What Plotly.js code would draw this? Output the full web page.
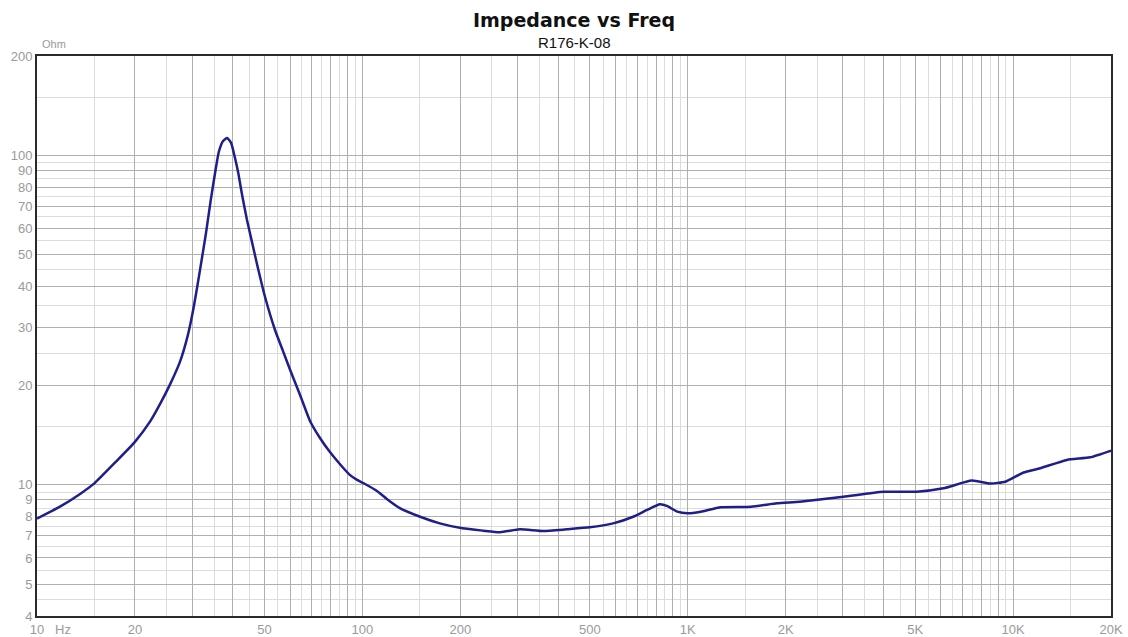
<!DOCTYPE html>
<html>
<head>
<meta charset="utf-8">
<script src="https://cdn.plot.ly/plotly-3.0.1.min.js"></script>
<style>html,body{margin:0;padding:0;background:#fff;}#chart{width:1128px;height:637px;}</style>
</head>
<body>
<div id="chart"></div>
<script>
// Frequency (Hz) and impedance (Ohm)
const freqHz = [10, 11.8, 13.6, 15, 17.4, 20, 22.3, 23.9, 25.6, 27.5, 29.1, 30.4, 31.7, 33.0, 34.2, 35.3, 36.2, 37.3, 38.4, 39.5, 40.4, 41.5, 42.7, 44.2, 45.8, 47.5, 50.2, 53.9, 57, 60, 64.4, 69.1, 74, 79.4, 85.4, 91.7, 96.3, 101.9, 110.9, 120, 130.4, 150.5, 173, 203, 235, 265, 305, 360, 425, 500, 590, 680, 750, 822, 863, 929, 1000, 1097, 1263, 1566, 1880, 2210, 3010, 3996, 5060, 6110, 7470, 8500, 9460, 10770, 12110, 14640, 17260, 20000];
const impedanceOhm = [7.9, 8.6, 9.4, 10.1, 11.7, 13.5, 15.6, 17.6, 20.1, 23.6, 28.5, 35.1, 44.9, 57.3, 73.1, 88.9, 102.3, 110.5, 112.8, 109, 100.1, 88.9, 75.7, 63.6, 54.5, 46.5, 37.2, 29.5, 25.5, 22.3, 18.7, 15.6, 13.9, 12.6, 11.55, 10.7, 10.35, 10.06, 9.58, 9.0, 8.5, 8.0, 7.64, 7.38, 7.26, 7.18, 7.33, 7.24, 7.33, 7.43, 7.64, 8.0, 8.39, 8.73, 8.63, 8.29, 8.2, 8.29, 8.55, 8.58, 8.79, 8.89, 9.2, 9.53, 9.53, 9.76, 10.3, 10.1, 10.22, 10.9, 11.23, 11.9, 12.12, 12.7];

// Axis ticks
const xMajorVals = [10,20,30,40,50,60,70,80,90,100,200,300,400,500,600,700,800,900,1000,2000,3000,4000,5000,6000,7000,8000,9000,10000,20000];
const xLabeled = {10:'10',20:'20',50:'50',100:'100',200:'200',500:'500',1000:'1K',2000:'2K',5000:'5K',10000:'10K',20000:'20K'};
const xMinorVals = [15,25,35,45,55,65,75,85,95,150,250,350,450,550,650,750,850,950,1500,2500,3500,4500,5500,6500,7500,8500,9500,15000];
const yMajorVals = [4,5,6,7,8,9,10,20,30,40,50,60,70,80,90,100,200];
const yMajorText = ['4','5','6','7','8','9','10','20','30','40','50','60','70','80','90','100','200'];
const yMinorVals = [4.5,5.5,6.5,7.5,8.5,9.5,15,25,35,45,55,65,75,85,95,150];

const xText = xMajorVals.map(v => xLabeled[v] || '');

const trace = {
  x: freqHz, y: impedanceOhm, type: 'scatter', mode: 'lines',
  line: {color: '#1f1f8a', width: 2.5, shape: 'spline', smoothing: 0.5},
  hoverinfo: 'x+y'
};

const tickFont = {family: 'Liberation Sans, Arial, sans-serif', size: 13, color: '#9a9a9a'};

const layout = {
  width: 1128, height: 637,
  margin: {l: 37, r: 17, t: 56, b: 21, pad: 0},
  paper_bgcolor: '#ffffff', plot_bgcolor: '#ffffff',
  showlegend: false,
  xaxis: {
    type: 'log', range: [Math.log10(10), Math.log10(20000)],
    tickmode: 'array', tickvals: xMajorVals, ticktext: xText,
    ticks: '', tickfont: tickFont,
    showgrid: true, gridcolor: '#b0b0b0', gridwidth: 1,
    minor: {tickmode: 'array', tickvals: xMinorVals, showgrid: true, gridcolor: '#dcdcdc', gridwidth: 1, ticks: ''},
    showline: true, linecolor: '#2a2a2a', linewidth: 2, mirror: true,
    zeroline: false, fixedrange: true
  },
  yaxis: {
    type: 'log', range: [Math.log10(4), Math.log10(200)],
    tickmode: 'array', tickvals: yMajorVals, ticktext: yMajorText,
    ticks: '', tickfont: tickFont,
    showgrid: true, gridcolor: '#b0b0b0', gridwidth: 1,
    minor: {tickmode: 'array', tickvals: yMinorVals, showgrid: true, gridcolor: '#dcdcdc', gridwidth: 1, ticks: ''},
    showline: true, linecolor: '#2a2a2a', linewidth: 2, mirror: true,
    zeroline: false, fixedrange: true
  },
  annotations: [
    {text: '<b>Impedance vs Freq</b>', xref: 'paper', yref: 'paper', x: 0.5, y: 1, yshift: 36, xanchor: 'center', yanchor: 'middle', showarrow: false,
     font: {family: 'DejaVu Sans, Verdana, sans-serif', size: 19, color: '#111111'}},
    {text: 'R176-K-08', xref: 'paper', yref: 'paper', x: 0.5, y: 1, yshift: 14, xanchor: 'center', yanchor: 'middle', showarrow: false,
     font: {family: 'Liberation Sans, Arial, sans-serif', size: 15, color: '#111111'}},
    {text: 'Ohm', xref: 'paper', yref: 'paper', x: 0, y: 1, xshift: 3, yshift: 12, xanchor: 'left', yanchor: 'middle', showarrow: false,
     font: {family: 'Liberation Sans, Arial, sans-serif', size: 11, color: '#9a9a9a'}},
    {text: 'Hz', xref: 'paper', yref: 'paper', x: 0, y: 0, xshift: 17, yshift: -13, xanchor: 'left', yanchor: 'middle', showarrow: false,
     borderpad: 0, font: {family: 'Liberation Sans, Arial, sans-serif', size: 13, color: '#9a9a9a'}}
  ]
};

Plotly.newPlot('chart', [trace], layout, {displayModeBar: false, staticPlot: true});
</script>
</body>
</html>
